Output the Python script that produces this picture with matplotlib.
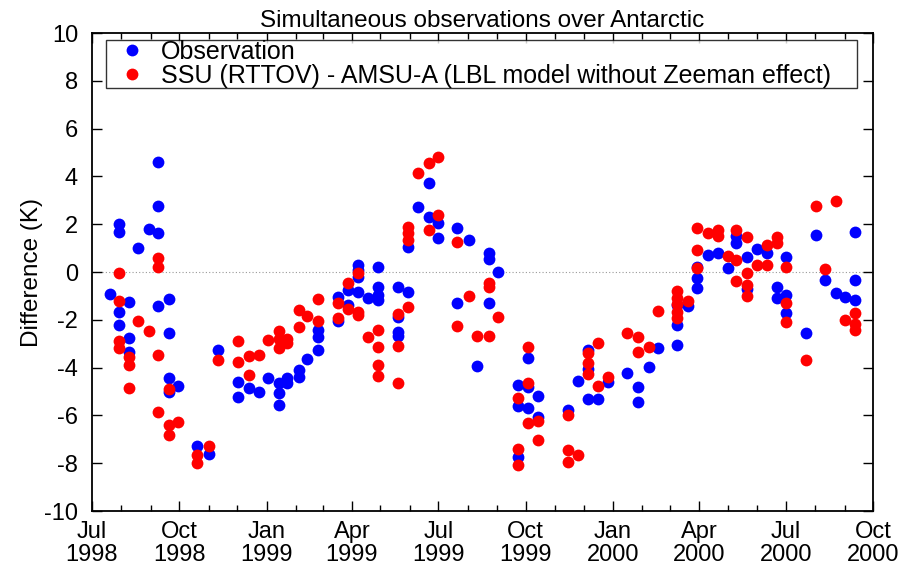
import matplotlib
matplotlib.use("Agg")
import matplotlib.pyplot as plt
import matplotlib.dates as mdates
import pandas as pd

plt.rcParams["font.family"] = ["Liberation Sans", "DejaVu Sans"]
plt.rcParams["axes.unicode_minus"] = False

# Observation (blue)
obs_dates = [
    "1998-07-20",
    "1998-07-30", "1998-07-30", "1998-07-30", "1998-07-30",
    "1998-08-09", "1998-08-09", "1998-08-09",
    "1998-08-19", "1998-08-30",
    "1998-09-09", "1998-09-09", "1998-09-09", "1998-09-09",
    "1998-09-20", "1998-09-20", "1998-09-20", "1998-09-20",
    "1998-09-30", "1998-10-20", "1998-11-01", "1998-11-11",
    "1998-12-02", "1998-12-02", "1998-12-13", "1998-12-24",
    "1999-01-03", "1999-01-14", "1999-01-14", "1999-01-14",
    "1999-01-23", "1999-01-23", "1999-02-04", "1999-02-04",
    "1999-02-13", "1999-02-24", "1999-02-24", "1999-02-24",
    "1999-03-17", "1999-03-17", "1999-03-28", "1999-03-28",
    "1999-04-07", "1999-04-07", "1999-04-07", "1999-04-07",
    "1999-04-18",
    "1999-04-28", "1999-04-28", "1999-04-28", "1999-04-28",
    "1999-05-19", "1999-05-19", "1999-05-19", "1999-05-19",
    "1999-05-30", "1999-05-30", "1999-06-10",
    "1999-06-21", "1999-06-21", "1999-07-01", "1999-07-01",
    "1999-07-21", "1999-07-21", "1999-08-02", "1999-08-11",
    "1999-08-23", "1999-08-23", "1999-08-23", "1999-09-02",
    "1999-09-23", "1999-09-23", "1999-09-23",
    "1999-10-03", "1999-10-03", "1999-10-03",
    "1999-10-14", "1999-10-14", "1999-11-15", "1999-11-25",
    "1999-12-06", "1999-12-06", "1999-12-06", "1999-12-16", "1999-12-27",
    "2000-01-16", "2000-01-27", "2000-01-27", "2000-02-08", "2000-02-17",
    "2000-03-09", "2000-03-09", "2000-03-09", "2000-03-20",
    "2000-03-30", "2000-03-30", "2000-03-30",
    "2000-04-10", "2000-04-21", "2000-05-01", "2000-05-10", "2000-05-10",
    "2000-05-21", "2000-05-21", "2000-06-01", "2000-06-11",
    "2000-06-22", "2000-06-22", "2000-07-01", "2000-07-01", "2000-07-01",
    "2000-07-22", "2000-08-02", "2000-08-11", "2000-08-23", "2000-09-02",
    "2000-09-12", "2000-09-12", "2000-09-12",
]
obs_diff = [
    -0.9,
    2.0, 1.67, -1.67, -2.2,
    -1.25, -2.78, -3.35,
    1.0, 1.8,
    4.6, 2.76, 1.63, -1.42,
    -1.13, -2.57, -4.45, -5.0,
    -4.77, -7.28, -7.6, -3.26,
    -4.6, -5.23, -4.87, -5.0,
    -4.45, -4.64, -5.06, -5.56,
    -4.43, -4.64, -4.1, -4.4,
    -3.64, -2.43, -2.72, -3.26,
    -1.05, -2.05, -0.75, -1.38,
    0.29, 0.08, -0.2, -0.84,
    -1.09,
    0.2, -0.63, -0.96, -1.17,
    -0.63, -1.88, -2.5, -2.68,
    -0.84, 1.05, 2.72,
    3.72, 2.3, 2.05, 1.42,
    1.84, -1.3, 1.34, -3.93,
    0.8, 0.54, -1.3, 0.0,
    -4.73, -5.6, -7.74,
    -3.6, -4.8, -5.69,
    -5.19, -6.07, -5.77, -4.56,
    -3.26, -4.06, -5.3, -5.3, -4.6,
    -4.23, -4.8, -5.44, -3.97, -3.2,
    -2.22, -3.05, -1.38, -1.42,
    -0.25, -0.67, 0.2,
    0.71, 0.79, 0.17, 1.5, 1.21,
    0.63, -0.71, 0.96, 0.79,
    -0.63, -1.09, 0.63, -0.96, -1.72,
    -2.55, 1.55, -0.33, -0.88, -1.05,
    1.67, -0.33, -1.17,
]

# SSU (RTTOV) - AMSU-A (LBL model without Zeeman effect) (red)
sim_dates = [
    "1998-07-30", "1998-07-30", "1998-07-30", "1998-07-30",
    "1998-08-09", "1998-08-09", "1998-08-09",
    "1998-08-19", "1998-08-30",
    "1998-09-09", "1998-09-09", "1998-09-09", "1998-09-09",
    "1998-09-20", "1998-09-20", "1998-09-20", "1998-09-30",
    "1998-10-20", "1998-10-20", "1998-11-01", "1998-11-11",
    "1998-12-02", "1998-12-02", "1998-12-13", "1998-12-13", "1998-12-24",
    "1999-01-03", "1999-01-14", "1999-01-14", "1999-01-14",
    "1999-01-23", "1999-01-23", "1999-02-04", "1999-02-04",
    "1999-02-13", "1999-02-24", "1999-02-24",
    "1999-03-17", "1999-03-17", "1999-03-28", "1999-03-28",
    "1999-04-07", "1999-04-07", "1999-04-07", "1999-04-18",
    "1999-04-28", "1999-04-28", "1999-04-28", "1999-04-28",
    "1999-05-19", "1999-05-19", "1999-05-19",
    "1999-05-30", "1999-05-30", "1999-05-30", "1999-05-30",
    "1999-06-10", "1999-06-21", "1999-06-21", "1999-07-01", "1999-07-01",
    "1999-07-21", "1999-07-21", "1999-08-02", "1999-08-11",
    "1999-08-23", "1999-08-23", "1999-08-23", "1999-09-02",
    "1999-09-23", "1999-09-23", "1999-09-23",
    "1999-10-03", "1999-10-03", "1999-10-03", "1999-10-14", "1999-10-14",
    "1999-11-15", "1999-11-15", "1999-11-15", "1999-11-25",
    "1999-12-06", "1999-12-06", "1999-12-06", "1999-12-16", "1999-12-16",
    "1999-12-27", "2000-01-16", "2000-01-27", "2000-01-27",
    "2000-02-08", "2000-02-17",
    "2000-03-09", "2000-03-09", "2000-03-09", "2000-03-09", "2000-03-09",
    "2000-03-20", "2000-03-30", "2000-03-30", "2000-03-30",
    "2000-04-10", "2000-04-21", "2000-04-21", "2000-05-01",
    "2000-05-10", "2000-05-10", "2000-05-10",
    "2000-05-21", "2000-05-21", "2000-05-21", "2000-05-21",
    "2000-06-01", "2000-06-11", "2000-06-11", "2000-06-22", "2000-06-22",
    "2000-07-01", "2000-07-01", "2000-07-01",
    "2000-07-22", "2000-08-02", "2000-08-11", "2000-08-23", "2000-09-02",
    "2000-09-12", "2000-09-12", "2000-09-12",
]
sim_diff = [
    -0.05, -1.2, -2.9, -3.17,
    -3.55, -3.9, -4.87,
    -2.05, -2.45,
    0.59, 0.21, -3.47, -5.86,
    -4.9, -6.4, -6.8, -6.28,
    -7.66, -8.0, -7.28, -3.68,
    -2.9, -3.77, -3.5, -4.3, -3.47,
    -2.85, -2.47, -2.8, -3.18,
    -2.8, -2.97, -2.3, -1.6,
    -1.84, -2.05, -1.13,
    -1.3, -1.93, -0.46, -1.55,
    -0.05, -1.67, -1.8, -2.72,
    -2.43, -3.14, -3.89, -4.35,
    -1.76, -3.1, -4.64,
    -1.46, 1.9, 1.63, 1.34,
    4.14, 4.56, 1.76, 4.81, 2.38,
    1.25, -2.26, -1.0, -2.68,
    -0.46, -0.63, -2.68, -1.88,
    -5.27, -7.4, -8.07,
    -3.14, -4.64, -6.3, -6.23, -7.03,
    -6.0, -7.45, -7.95, -7.66,
    -3.39, -3.8, -4.27, -2.97, -4.77,
    -4.4, -2.55, -2.72, -3.35,
    -3.14, -1.63,
    -0.8, -1.09, -1.34, -1.67, -1.92,
    -1.2, 1.84, 0.92, 0.17,
    1.63, 1.76, 1.5, 0.67,
    1.76, 0.5, -0.38,
    1.46, -0.04, -0.54, -1.0,
    0.29, 1.13, 0.29, 1.46, 1.21,
    0.21, -1.3, -2.09,
    -3.68, 2.76, 0.13, 2.97, -2.0,
    -1.72, -2.17, -2.43,
]

labels = ["Observation",
          "SSU (RTTOV) - AMSU-A (LBL model without Zeeman effect)"]

fig = plt.figure(figsize=(9.07, 5.75), dpi=100)
ax = fig.add_axes([0.1014, 0.1113, 0.8611, 0.8313])

ax.axhline(0, color="0.6", lw=0.8, ls=(0, (1, 2)), zorder=1)
ax.plot(pd.to_datetime(obs_dates), obs_diff, "o", color="#0000ff",
        ms=8.5, mew=0, label=labels[0], zorder=3)
ax.plot(pd.to_datetime(sim_dates), sim_diff, "o", color="#ff0000",
        ms=8.5, mew=0, label=labels[1], zorder=4)

ax.set_xlim(pd.Timestamp("1998-07-01"), pd.Timestamp("2000-10-01"))
ax.set_ylim(-10, 10)
ax.set_yticks(range(-10, 11, 2))
ax.xaxis.set_major_locator(mdates.MonthLocator(bymonth=[1, 4, 7, 10]))
ax.xaxis.set_minor_locator(mdates.MonthLocator())
ax.xaxis.set_major_formatter(mdates.DateFormatter("%b\n%Y"))
ax.tick_params(which="both", direction="in", top=True, right=True,
               labelsize=17, width=1.0, colors="black")
ax.tick_params(which="major", length=7)
ax.tick_params(which="minor", length=4)
ax.tick_params(axis="x", pad=7)
ax.tick_params(axis="y", pad=10)
for lab in ax.get_xticklabels():
    lab.set_linespacing(1.05)
for sp in ax.spines.values():
    sp.set_linewidth(1.3)

ax.set_ylabel("Difference (K)", fontsize=17.5, labelpad=1)
ax.set_title("Simultaneous observations over Antarctic", fontsize=17.5, pad=4)

leg = ax.legend(loc="upper left", bbox_to_anchor=(0.018, 0.118, 0.962, 0.868),
                mode="expand", fontsize=18, frameon=True, fancybox=False,
                handletextpad=0.1, handlelength=2.1, borderpad=0.0,
                labelspacing=0.0, borderaxespad=0)
leg.get_frame().set_edgecolor("black")
leg.get_frame().set_linewidth(1.0)

fig.savefig("out.png", dpi=100)
